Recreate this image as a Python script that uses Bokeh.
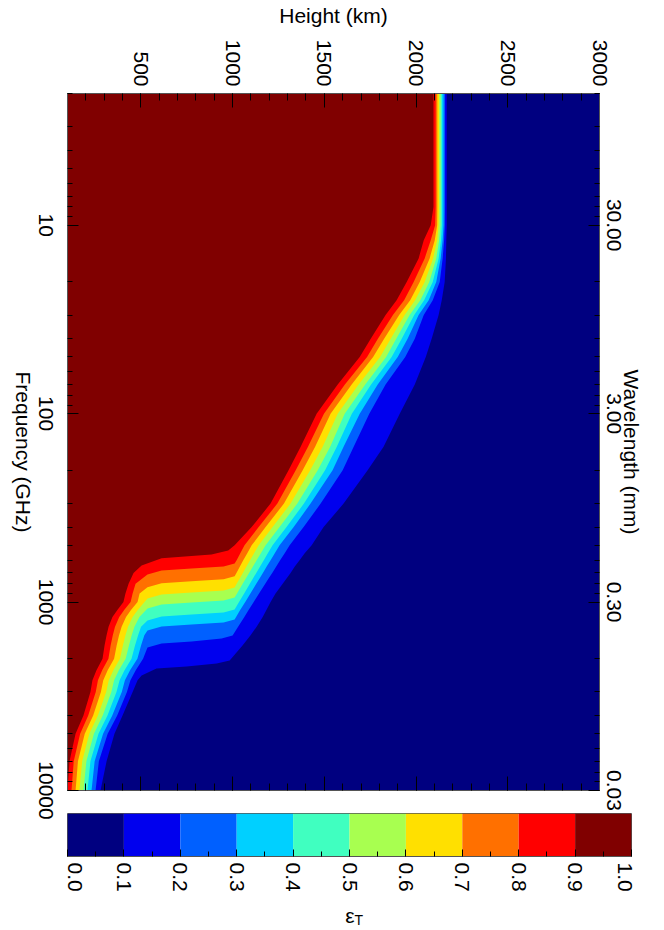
import math
from bokeh.plotting import figure
from bokeh.layouts import column, row
from bokeh.models import (Range1d, LinearAxis, LogAxis, FixedTicker, Label, CustomJSTickFormatter)
from bokeh.embed import file_html
from bokeh.resources import INLINE

FONT = "Liberation Sans"

# ---------------- axes / ticks ----------------
height_range = [100, 3000]
freq_range = [2, 10000]
height_ticks = [500, 1000, 1500, 2000, 2500, 3000]
height_tick_labels = ["500", "1000", "1500", "2000", "2500", "3000"]
height_minor = [100, 200, 300, 400, 500, 600, 700, 800, 900, 1000, 1100, 1200, 1300, 1400, 1500,
                1600, 1700, 1800, 1900, 2000, 2100, 2200, 2300, 2400, 2500, 2600, 2700, 2800, 2900, 3000]
freq_ticks = [10, 100, 1000, 10000]
freq_tick_labels = ["10", "100", "1000", "10000"]
freq_minor = [2, 3, 4, 5, 6, 7, 8, 9, 20, 30, 40, 50, 60, 70, 80, 90,
              200, 300, 400, 500, 600, 700, 800, 900, 2000, 3000, 4000, 5000, 6000, 7000, 8000, 9000]
wavelength_tick_labels = ["30.00", "3.00", "0.30", "0.03"]
cbar_ticks = [0.0, 0.1, 0.2, 0.3, 0.4, 0.5, 0.6, 0.7, 0.8, 0.9, 1.0]
cbar_tick_labels = ["0.0", "0.1", "0.2", "0.3", "0.4", "0.5", "0.6", "0.7", "0.8", "0.9", "1.0"]
cbar_minor = [0.05, 0.15, 0.25, 0.35, 0.45, 0.55, 0.65, 0.75, 0.85, 0.95]

# ---------------- contour data ----------------
levels = [0.1, 0.2, 0.3, 0.4, 0.5, 0.6, 0.7, 0.8, 0.9]
band_colors = ["#000080", "#0000EE", "#0060FF", "#00D0FF", "#40FFC0",
               "#A8FF50", "#FFE000", "#FF7000", "#FF0000", "#800000"]

# frequency (GHz) shared by the upper part of every contour
freq_upper = [2, 8, 10, 12, 15, 20, 25, 30, 40, 50, 70, 100, 150, 200, 300, 400, 500]

# height (km) of each contour level along freq_upper
height_upper_01 = [2167, 2167, 2167, 2165, 2163, 2156, 2140, 2123, 2085, 2053, 1993, 1911, 1823, 1736, 1605, 1496, 1431]
height_upper_02 = [2158, 2158, 2157, 2153, 2145, 2129, 2091, 2042, 1993, 1941, 1834, 1745, 1660, 1600, 1480, 1387, 1311]
height_upper_03 = [2150, 2150, 2150, 2145, 2134, 2110, 2069, 2014, 1954, 1900, 1791, 1693, 1605, 1545, 1425, 1333, 1256]
height_upper_04 = [2141, 2141, 2141, 2136, 2123, 2091, 2044, 1990, 1922, 1867, 1755, 1650, 1568, 1504, 1389, 1294, 1218]
height_upper_05 = [2134, 2134, 2133, 2126, 2110, 2072, 2023, 1965, 1892, 1837, 1723, 1611, 1532, 1464, 1353, 1256, 1180]
height_upper_06 = [2125, 2125, 2123, 2115, 2093, 2047, 1995, 1938, 1862, 1804, 1687, 1573, 1491, 1423, 1316, 1218, 1142]
height_upper_07 = [2116, 2116, 2115, 2102, 2074, 2020, 1968, 1908, 1826, 1766, 1649, 1534, 1450, 1382, 1280, 1180, 1104]
height_upper_08 = [2107, 2107, 2104, 2080, 2047, 1987, 1935, 1874, 1792, 1733, 1612, 1498, 1411, 1344, 1244, 1142, 1065]
height_upper_09 = [2095, 2095, 2080, 2042, 2014, 1949, 1894, 1834, 1753, 1693, 1573, 1458, 1371, 1305, 1207, 1104, 1011]

# lower part of each contour (own frequencies, GHz / heights, km)
freq_tail_01 = [550, 600, 650, 700, 750, 800, 900, 1000, 1100, 1200, 1350, 1500, 1700, 2000, 2042, 2118, 2198, 2252, 2454, 2600, 3000, 4000, 5000, 7000, 10000]
height_tail_01 = [1393, 1365, 1338, 1316, 1294, 1273, 1234, 1207, 1185, 1164, 1131, 1098, 1054, 992, 984, 913, 749, 585, 504, 482, 455, 400, 356, 313, 280]
freq_tail_02 = [550, 600, 650, 700, 750, 800, 900, 1000, 1100, 1200, 1350, 1504, 1561, 1619, 1659, 1742, 2000, 2300, 2600, 3000, 4000, 5000, 7000, 10000]
height_tail_02 = [1284, 1259, 1237, 1216, 1196, 1178, 1144, 1115, 1088, 1064, 1030, 1000, 940, 776, 613, 536, 512, 472, 443, 424, 371, 319, 271, 253]
freq_tail_03 = [550, 600, 650, 700, 750, 800, 900, 1000, 1100, 1200, 1237, 1284, 1315, 1348, 1416, 1500, 1700, 2000, 2300, 2600, 3000, 4000, 5000, 7000, 10000]
height_tail_03 = [1230, 1207, 1185, 1165, 1147, 1129, 1097, 1069, 1042, 1019, 1011, 951, 776, 613, 536, 519, 501, 481, 441, 413, 396, 344, 294, 248, 231]
freq_tail_04 = [550, 600, 650, 700, 750, 800, 900, 1000, 1095, 1136, 1164, 1193, 1253, 1350, 1500, 1700, 2000, 2300, 2600, 3000, 4000, 5000, 7000, 10000]
height_tail_04 = [1192, 1170, 1149, 1129, 1111, 1094, 1063, 1035, 1011, 951, 776, 613, 536, 501, 485, 468, 449, 411, 384, 367, 318, 269, 225, 209]
freq_tail_05 = [550, 600, 650, 700, 750, 800, 900, 946, 981, 1006, 1030, 1082, 1200, 1350, 1500, 1700, 2000, 2300, 2600, 3000, 4000, 5000, 7000, 10000]
height_tail_05 = [1154, 1131, 1110, 1090, 1072, 1055, 1024, 1011, 951, 776, 613, 536, 492, 465, 450, 435, 417, 380, 354, 339, 292, 244, 203, 187]
freq_tail_06 = [550, 600, 650, 700, 750, 800, 837, 868, 890, 912, 957, 1000, 1100, 1200, 1350, 1500, 1700, 2000, 2300, 2600, 3000, 4000, 5000, 7000, 10000]
height_tail_06 = [1117, 1095, 1075, 1056, 1039, 1022, 1011, 951, 776, 613, 536, 520, 484, 455, 430, 416, 402, 386, 350, 325, 311, 266, 219, 180, 165]
freq_tail_07 = [550, 600, 650, 700, 729, 756, 775, 794, 834, 900, 1000, 1100, 1200, 1350, 1500, 1700, 2000, 2300, 2600, 3000, 4000, 5000, 7000, 10000]
height_tail_07 = [1080, 1058, 1039, 1021, 1011, 951, 776, 613, 536, 493, 482, 447, 419, 395, 381, 368, 354, 319, 295, 282, 240, 194, 157, 144]
freq_tail_08 = [550, 600, 624, 647, 663, 680, 714, 800, 900, 1000, 1100, 1200, 1350, 1500, 1700, 2000, 2300, 2600, 3000, 4000, 5000, 7000, 10000]
height_tail_08 = [1042, 1022, 1011, 951, 776, 613, 536, 471, 455, 444, 410, 382, 359, 347, 335, 323, 289, 266, 254, 213, 169, 134, 122]
freq_tail_09 = [533, 559, 585, 640, 700, 800, 900, 1000, 1100, 1200, 1350, 1500, 1700, 2000, 2300, 2600, 3000, 4000, 5000, 7000, 10000]
height_tail_09 = [976, 885, 613, 504, 460, 433, 416, 405, 373, 345, 324, 313, 302, 291, 258, 236, 225, 187, 144, 111, 100]

height_upper = [height_upper_01, height_upper_02, height_upper_03, height_upper_04, height_upper_05,
                height_upper_06, height_upper_07, height_upper_08, height_upper_09]
freq_tail = [freq_tail_01, freq_tail_02, freq_tail_03, freq_tail_04, freq_tail_05,
             freq_tail_06, freq_tail_07, freq_tail_08, freq_tail_09]
height_tail = [height_tail_01, height_tail_02, height_tail_03, height_tail_04, height_tail_05,
               height_tail_06, height_tail_07, height_tail_08, height_tail_09]

# ---------------- layout constants (pixels) ----------------
FRAME_W, FRAME_H = 532, 697
TOP_B = 93            # space above the plot frame
STRIP_W = 60          # left strip holding the frequency labels
MAIN_LB = 6           # main figure's own left border
PAGE_H = 930

AXIS_COLOR = "#555555"
TXT = dict(text_font=FONT, text_font_size="21px", text_color="black")
DOWN = -math.pi / 2          # text reading from top to bottom
empty_fmt = CustomJSTickFormatter(code="return ''")


def style_axis(ax, major_len, minor_len):
    ax.major_tick_in = major_len
    ax.major_tick_out = 0
    ax.minor_tick_in = minor_len
    ax.minor_tick_out = 0
    ax.major_tick_line_color = "black"
    ax.minor_tick_line_color = "black"
    ax.axis_line_color = AXIS_COLOR


def hide_labels(ax):
    ax.formatter = empty_fmt
    ax.major_label_standoff = 0
    ax.major_label_text_font_size = "0px"


# ---------------- main figure ----------------
p = figure(frame_width=FRAME_W, frame_height=FRAME_H,
           x_range=Range1d(height_range[0], height_range[1]),
           y_range=Range1d(freq_range[1], freq_range[0]),
           y_axis_type="log", x_axis_location="above", y_axis_location="left",
           output_backend="svg", toolbar_location=None,
           min_border_left=MAIN_LB, min_border_right=52, min_border_top=TOP_B, min_border_bottom=22)
p.grid.visible = False
p.background_fill_color = band_colors[0]
p.border_fill_color = "white"
p.outline_line_color = AXIS_COLOR

for i in range(len(levels)):
    f = freq_upper + freq_tail[i]
    h = height_upper[i] + height_tail[i]
    p.harea(x1=[height_range[0]] * len(f), x2=h, y=f, fill_color=band_colors[i + 1])

height_ticker = FixedTicker(ticks=height_ticks, minor_ticks=height_minor)
freq_ticker = FixedTicker(ticks=freq_ticks, minor_ticks=freq_minor)

top = p.xaxis[0]
top.ticker = height_ticker
top.major_label_overrides = {t: s for t, s in zip(height_ticks, height_tick_labels)}
top.major_label_orientation = DOWN
top.major_label_text_font = FONT
top.major_label_text_font_size = "21px"
top.major_label_text_color = "black"
top.major_label_standoff = 7
style_axis(top, 14, 7)

bottom = LinearAxis(ticker=height_ticker)
hide_labels(bottom)
style_axis(bottom, 14, 7)
p.add_layout(bottom, "below")

left = p.yaxis[0]
left.ticker = freq_ticker
hide_labels(left)
style_axis(left, 11, 5)

right = LogAxis(ticker=freq_ticker)
hide_labels(right)
style_axis(right, 11, 5)
p.add_layout(right, "right")

for f, w in zip(freq_ticks, wavelength_tick_labels):
    p.add_layout(Label(x=height_range[1], y=f, x_offset=14, angle=DOWN, text=w,
                       text_align="center", text_baseline="alphabetic", **TXT), "right")

x_mid = (height_range[0] + height_range[1]) / 2
f_mid = math.sqrt(freq_range[0] * freq_range[1])
p.add_layout(Label(x=x_mid, y=freq_range[0], y_offset=78, text="Height (km)",
                   text_align="center", text_baseline="alphabetic", **TXT), "above")
p.add_layout(Label(x=height_range[1], y=f_mid, x_offset=32, y_offset=-10, angle=DOWN,
                   text="Wavelength (mm)", text_align="center", text_baseline="alphabetic", **TXT),
             "right")

# ---------------- left strip (frequency labels) ----------------
# its frame fills the whole strip; the log scale is extended so that it lines up with the main frame
dec_per_px = math.log10(freq_range[1] / freq_range[0]) / FRAME_H
f_strip_top = freq_range[0] / 10 ** (TOP_B * dec_per_px)
f_strip_bot = freq_range[1] * 10 ** ((PAGE_H - TOP_B - FRAME_H) * dec_per_px)
strip = figure(width=STRIP_W, height=PAGE_H,
               x_range=Range1d(-(STRIP_W + MAIN_LB), -MAIN_LB),   # x = 0 is the main frame's left edge
               y_range=Range1d(f_strip_bot, f_strip_top),
               y_axis_type="log", x_axis_location=None, y_axis_location=None,
               output_backend="svg", toolbar_location=None,
               min_border_left=0, min_border_right=0, min_border_top=0, min_border_bottom=0)
strip.grid.visible = False
strip.outline_line_color = None
strip.background_fill_color = "white"
strip.border_fill_color = "white"
for f, t in zip(freq_ticks, freq_tick_labels):
    strip.add_layout(Label(x=0, y=f, x_offset=-21, angle=DOWN, text=t,
                           text_align="center", text_baseline="alphabetic", **TXT))
strip.add_layout(Label(x=0, y=f_mid, x_offset=-43, y_offset=-10, angle=DOWN, text="Frequency (GHz)",
                       text_align="center", text_baseline="alphabetic", **TXT))

# ---------------- colour bar ----------------
cb = figure(frame_width=564, frame_height=43, x_range=Range1d(0, 1), y_range=Range1d(0, 1),
            x_axis_location=None, y_axis_location=None,
            output_backend="svg", toolbar_location=None,
            min_border_left=67 - STRIP_W, min_border_right=19, min_border_top=1, min_border_bottom=74)
cb.grid.visible = False
cb.outline_line_color = AXIS_COLOR
cb.quad(left=cbar_ticks[:-1], right=cbar_ticks[1:], bottom=0, top=1,
        fill_color=band_colors, line_color=None)
cb_axis = LinearAxis(ticker=FixedTicker(ticks=cbar_ticks, minor_ticks=cbar_minor))
hide_labels(cb_axis)
style_axis(cb_axis, 7, 5)
cb.add_layout(cb_axis, "below")

for k, (v, t) in enumerate(zip(cbar_ticks, cbar_tick_labels)):
    shift = 7 if k == 0 else (-7 if k == len(cbar_ticks) - 1 else 0)
    cb.add_layout(Label(x=v, y=0, x_offset=shift, y_offset=-6, angle=DOWN, text=t,
                        text_align="left", text_baseline="middle", **TXT), "below")
cb.add_layout(Label(x=0.5, y=0, x_offset=5, y_offset=-59, text="ε",
                    text_align="right", text_baseline="alphabetic", **TXT), "below")
cb.add_layout(Label(x=0.5, y=0, x_offset=5, y_offset=-63, text="T",
                    text_align="left", text_baseline="alphabetic",
                    text_font=FONT, text_font_size="14px", text_color="black"), "below")

layout = row(strip, column(p, cb))
open("out.html", "w").write(file_html(layout, INLINE))
